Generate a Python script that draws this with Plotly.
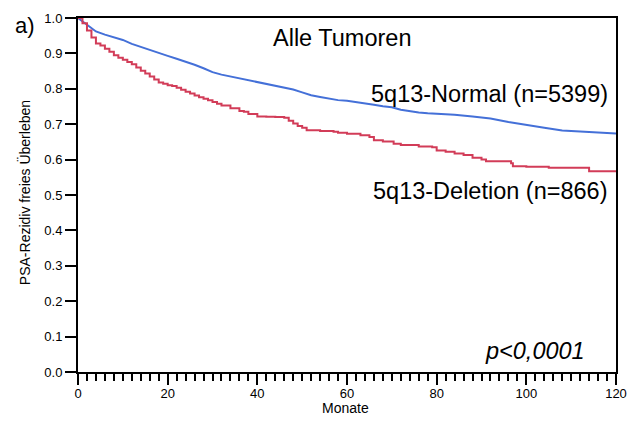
import plotly.graph_objects as go

# Kaplan-Meier estimates
normal_months = [0, 1, 2, 3, 4, 6, 8, 10, 12, 14, 16, 18, 20, 22, 24, 26, 28, 30, 32, 34,
                 36, 38, 40, 42, 44, 46, 48, 50, 52, 54, 56, 58, 60, 62, 64, 66, 68, 70,
                 72, 74, 76, 78, 80, 84, 88, 92, 96, 100, 104, 108, 112, 116, 120]
normal_surv = [1.0, 0.99, 0.98, 0.97, 0.962, 0.953, 0.946, 0.938, 0.927, 0.918, 0.909, 0.900,
               0.893, 0.885, 0.877, 0.868, 0.858, 0.847, 0.840, 0.835, 0.829, 0.824, 0.819,
               0.815, 0.810, 0.805, 0.798, 0.790, 0.782, 0.777, 0.772, 0.768, 0.766, 0.763,
               0.759, 0.755, 0.751, 0.748, 0.741, 0.736, 0.733, 0.731, 0.730, 0.727, 0.722,
               0.716, 0.706, 0.697, 0.690, 0.682, 0.680, 0.678, 0.674]

deletion_months = [0, 0.5, 1, 2, 3, 4, 5, 6, 7, 8, 9, 10, 11, 12, 13, 14, 15, 16, 17, 18, 19,
                   20, 21, 22, 23, 24, 25, 26, 27, 28, 29, 30, 31, 32, 34, 36, 37, 38, 40, 42,
                   44, 46, 47, 48, 49, 50, 51, 54, 57, 58, 60, 63, 65, 66, 68, 70.4, 72, 76,
                   79, 80, 82, 84, 86, 88, 90, 91, 96.6, 97, 100, 105, 114, 120]
deletion_surv = [1.0, 1.0, 0.985, 0.965, 0.945, 0.928, 0.922, 0.913, 0.905, 0.895, 0.888,
                 0.882, 0.876, 0.869, 0.860, 0.851, 0.843, 0.835, 0.826, 0.818, 0.814, 0.810,
                 0.808, 0.803, 0.797, 0.792, 0.787, 0.781, 0.776, 0.772, 0.768, 0.763, 0.758,
                 0.753, 0.745, 0.737, 0.735, 0.729, 0.722, 0.721, 0.720, 0.718, 0.710, 0.702,
                 0.695, 0.690, 0.683, 0.681, 0.679, 0.676, 0.673, 0.669, 0.664, 0.655, 0.651,
                 0.645, 0.641, 0.637, 0.635, 0.626, 0.622, 0.617, 0.613, 0.605, 0.600, 0.595,
                 0.590, 0.581, 0.580, 0.577, 0.567, 0.567]

x_ticks = [0, 20, 40, 60, 80, 100, 120]
y_ticks = [0.0, 0.1, 0.2, 0.3, 0.4, 0.5, 0.6, 0.7, 0.8, 0.9, 1.0]

FONT = "Liberation Sans, Arial, sans-serif"

fig = go.Figure()
fig.add_trace(go.Scatter(x=normal_months, y=normal_surv, mode="lines", line_shape="linear",
                         line=dict(color="#4470d8", width=2), showlegend=False))
fig.add_trace(go.Scatter(x=deletion_months, y=deletion_surv, mode="lines", line_shape="hv",
                         line=dict(color="#d23c58", width=2), showlegend=False))
# empty trace so the overlay axis (long major ticks) is created
fig.add_trace(go.Scatter(x=[], y=[], xaxis="x2", yaxis="y", showlegend=False, hoverinfo="skip"))

fig.update_layout(
    width=638, height=421,
    margin=dict(l=78, r=11, t=13, b=49, pad=0),
    paper_bgcolor="white", plot_bgcolor="white",
    font=dict(family=FONT, color="black", size=13),
    xaxis=dict(range=[0, 120], tickvals=x_ticks, ticktext=[str(v) for v in x_ticks],
               showgrid=False, zeroline=False, showline=True, linecolor="black", linewidth=2,
               mirror=True, ticks="outside", ticklen=8, tickwidth=2, tickcolor="black",
               tickfont=dict(size=13, family=FONT),
               minor=dict(dtick=2, ticks="outside", ticklen=7, tickwidth=1.5, tickcolor="black",
                          showgrid=False)),
    xaxis2=dict(range=[0, 120], overlaying="x", anchor="y", side="bottom",
                tickvals=x_ticks, showticklabels=False, showgrid=False, zeroline=False,
                showline=False, ticks="outside", ticklen=12, tickwidth=2, tickcolor="black"),
    yaxis=dict(range=[0, 1], tickvals=y_ticks, ticktext=[f"{v:.1f}" for v in y_ticks],
               showgrid=False, zeroline=False, showline=True, linecolor="black", linewidth=2,
               mirror=True, ticks="outside", ticklen=11, tickwidth=2, tickcolor="black",
               tickfont=dict(size=13, family=FONT)),
)

big = dict(family=FONT, size=23.5, color="black")
fig.add_annotation(x=58.9, y=0.944, xref="x", yref="y", text="Alle Tumoren", showarrow=False,
                   font=big, xanchor="center", yanchor="middle")
fig.add_annotation(x=118.6, y=0.785, xref="x", yref="y", text="5q13-Normal (n=5399)",
                   showarrow=False, font=big, xanchor="right", yanchor="middle")
fig.add_annotation(x=118.6, y=0.512, xref="x", yref="y", text="5q13-Deletion (n=866)",
                   showarrow=False, font=big, xanchor="right", yanchor="middle")
fig.add_annotation(x=113.6, y=0.058, xref="x", yref="y", text="<i>p<0,0001</i>",
                   showarrow=False, font=big, xanchor="right", yanchor="middle")
fig.add_annotation(x=-0.12, y=0.98, xref="paper", yref="paper", text="a)", showarrow=False,
                   font=dict(family=FONT, size=22, color="black"), xanchor="left", yanchor="middle")
fig.add_annotation(x=-0.0992, y=0.507, xref="paper", yref="paper",
                   text="PSA-Rezidiv freies Überleben", textangle=-90, showarrow=False,
                   font=dict(family=FONT, size=14, color="black"), xanchor="center", yanchor="middle")
fig.add_annotation(x=0.498, y=-0.101, xref="paper", yref="paper", text="Monate",
                   showarrow=False, font=dict(family=FONT, size=14, color="black"),
                   xanchor="center", yanchor="middle")

fig.write_html("out.html")
